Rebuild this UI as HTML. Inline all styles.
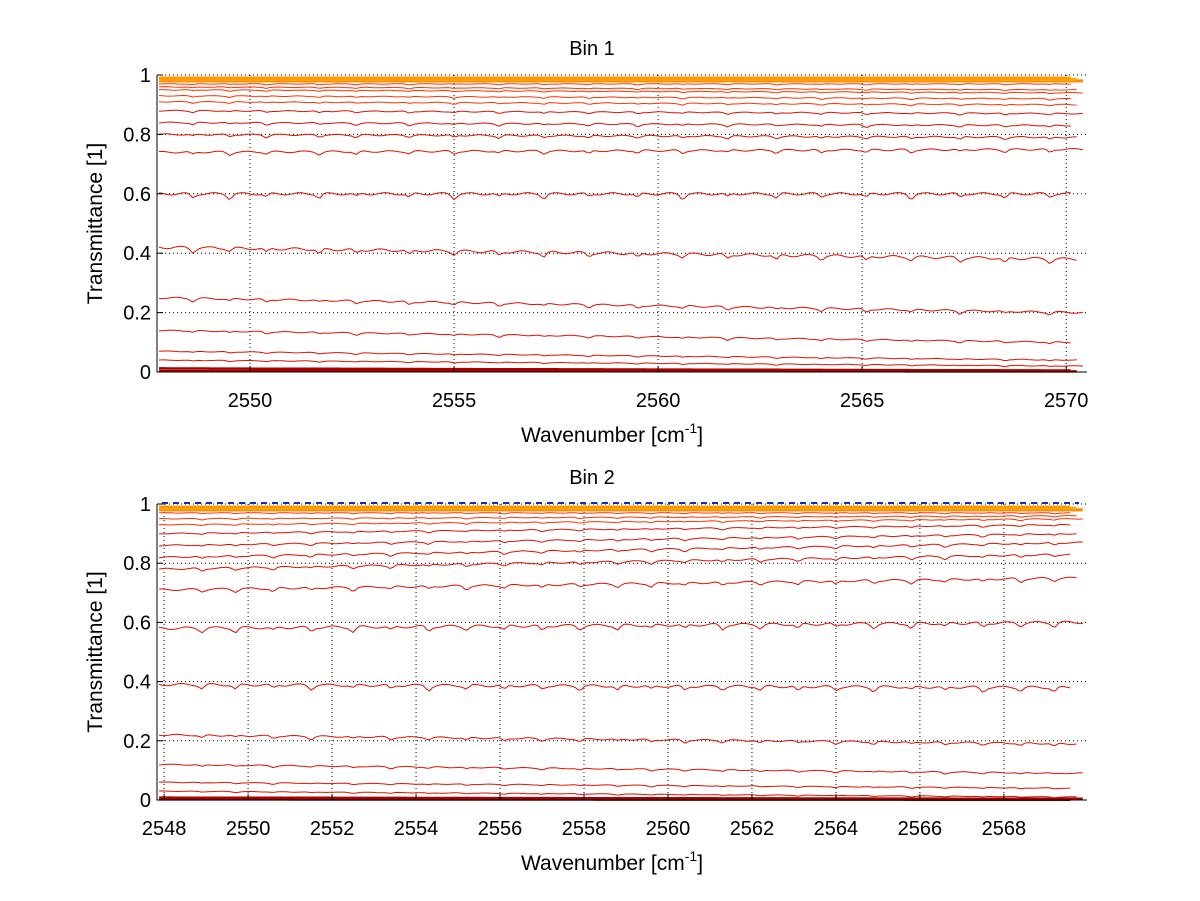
<!DOCTYPE html>
<html><head><meta charset="utf-8">
<style>
body{margin:0;background:#fff;}
svg{display:block;font-family:"Liberation Sans",Arial,sans-serif;}
</style></head>
<body>
<svg id="chart" width="1200" height="901"></svg>
<script>
// ---- Data ----
const bin1Start = [0.99,0.985,0.98,0.97,0.96,0.95,0.93,0.91,0.88,0.84,0.80,0.74,0.60,0.42,0.25,0.14,0.07,0.04,0.012,0.003];
const bin1End   = [0.99,0.985,0.98,0.97,0.95,0.94,0.92,0.90,0.87,0.83,0.79,0.75,0.60,0.38,0.20,0.10,0.04,0.02,0.005,0.002];
const bin2Start = [0.99,0.985,0.98,0.97,0.95,0.93,0.90,0.86,0.82,0.78,0.71,0.58,0.39,0.22,0.12,0.06,0.03,0.008,0.002];
const bin2End   = [0.99,0.985,0.98,0.97,0.96,0.95,0.93,0.90,0.87,0.83,0.75,0.60,0.38,0.19,0.09,0.04,0.01,0.004,0.001];
const bin1Lines = [2548.6,2549.5,2550.4,2551.7,2552.6,2553.9,2555.0,2556.1,2557.2,2558.3,2559.5,2560.6,2561.7,2562.9,2564.0,2565.1,2566.2,2567.4,2568.5,2569.6];
const bin2Lines = [2548.9,2549.7,2550.6,2551.5,2552.5,2553.4,2554.3,2555.2,2556.1,2557.0,2557.9,2558.8,2559.6,2560.4,2561.3,2562.2,2563.1,2564.0,2564.9,2565.8,2566.6,2567.5,2568.4,2569.2];
const yTicks = [0,0.2,0.4,0.6,0.8,1];
const xTicks1 = [2550,2555,2560,2565,2570];
const xTicks2 = [2548,2550,2552,2554,2556,2558,2560,2562,2564,2566,2568];

const NS="http://www.w3.org/2000/svg";
const svg=document.getElementById('chart');
function mk(tag,attrs,parent,text){const e=document.createElementNS(NS,tag);for(const k in attrs)e.setAttribute(k,attrs[k]);if(text!==undefined)e.textContent=text;(parent||svg).appendChild(e);return e;}

function panel(p){
  const g=mk('g',{});
  
  
  const X=v=>p.left+(v-p.xmin)/(p.xmax-p.xmin)*(p.right-p.left);
  const Y=v=>p.bottom-(v)*(p.bottom-p.top);
  p.xTicks.forEach(t=>{const l=mk('line',{x1:X(t),x2:X(t),y1:p.top,y2:p.bottom,stroke:'#000','stroke-width':1,'stroke-dasharray':'1,3'},g);
    });
  yTicks.forEach(t=>{const l=mk('line',{x1:p.left,x2:p.right,y1:Y(t),y2:Y(t),stroke:'#000','stroke-width':1,'stroke-dasharray':'1,3'},g);
    });
  const n=p.start.length;
  for(let i=n-1;i>=0;i--){
    const s=p.start[i],e=p.end[i];
    const flat=(s>=0.975||s<0.02);
    const depthScale=flat?0:Math.min(s,1-s)*0.035+0.002;
    let d='';
    const x0=p.xmin+0.05,x1=p.xmax-0.4+(i%3)*0.15;
    for(let k=0;k<=300;k++){
      const x=x0+(x1-x0)*k/300;
      let v=s+(e-s)*(k/300);
      p.lines.forEach((c,j)=>{const w=0.08;const dd=(x-c)/w;v-=depthScale*(0.6+0.4*((j*7+i)%5)/4)*Math.exp(-dd*dd);});
      v+=depthScale*0.25*Math.sin(x*9+i);
      d+=(k?'L':'M')+X(x).toFixed(1)+','+Y(Math.min(v,1)).toFixed(1);
    }
    let col;
    if(s>=0.975){col=['#ff9900','#ffaa00','#ff8800'][i%3];}
    else if(s<0.02){col='#aa0000';}
    else col=s>0.9?'#ff3300':'#dd1100';
    const pth=mk('path',{d:d,fill:'none',stroke:col,'stroke-width':s>=0.975?3:(s<0.02?2.5:1)},g);
    
    
  }
  if(p.blue){const b=mk('line',{x1:p.left+5,x2:p.right-8,y1:Y(1)-1,y2:Y(1)-1,stroke:'#0033cc','stroke-width':2,'stroke-dasharray':'6,5'},g);
    }
  const ax=mk('path',{d:`M${p.left},${p.top}V${p.bottom}H${p.right}`,fill:'none',stroke:'#000','stroke-width':1},g);
  
  yTicks.forEach(t=>{mk('line',{x1:p.left,x2:p.left+6,y1:Y(t),y2:Y(t),stroke:'#000'},g);
    const tx=mk('text',{x:p.left-6,y:Y(t)+7,'text-anchor':'end','font-size':20},g,String(t));
    });
  p.xTicks.forEach(t=>{mk('line',{x1:X(t),x2:X(t),y1:p.bottom,y2:p.bottom-6,stroke:'#000'},g);
    const tx=mk('text',{x:X(t),y:p.bottom+35,'text-anchor':'middle','font-size':20},g,String(t));
    });
  const tt=mk('text',{x:(p.left+p.right)/2-30,y:p.top-20,'text-anchor':'middle','font-size':20},g,p.title);
  
  const xl=mk('text',{x:(p.left+p.right)/2-10,y:p.bottom+70,'text-anchor':'middle','font-size':21},g);
  xl.innerHTML='Wavenumber [cm<tspan dy="-9" font-size="14">-1</tspan><tspan dy="9">]</tspan>';
  
  const yl=mk('text',{x:0,y:0,'text-anchor':'middle','font-size':21,transform:`translate(102,${(p.top+p.bottom)/2}) rotate(-90)`},g,'Transmittance [1]');
  
}
panel({name:'bin1-panel',title:'Bin 1',left:157,right:1087,top:75,bottom:372,xmin:2547.72,xmax:2570.51,xTicks:xTicks1,start:bin1Start,end:bin1End,lines:bin1Lines,blue:false});
panel({name:'bin2-panel',title:'Bin 2',left:157,right:1087,top:504,bottom:800,xmin:2547.83,xmax:2569.98,xTicks:xTicks2,start:bin2Start,end:bin2End,lines:bin2Lines,blue:true});
</script>
</body></html>
